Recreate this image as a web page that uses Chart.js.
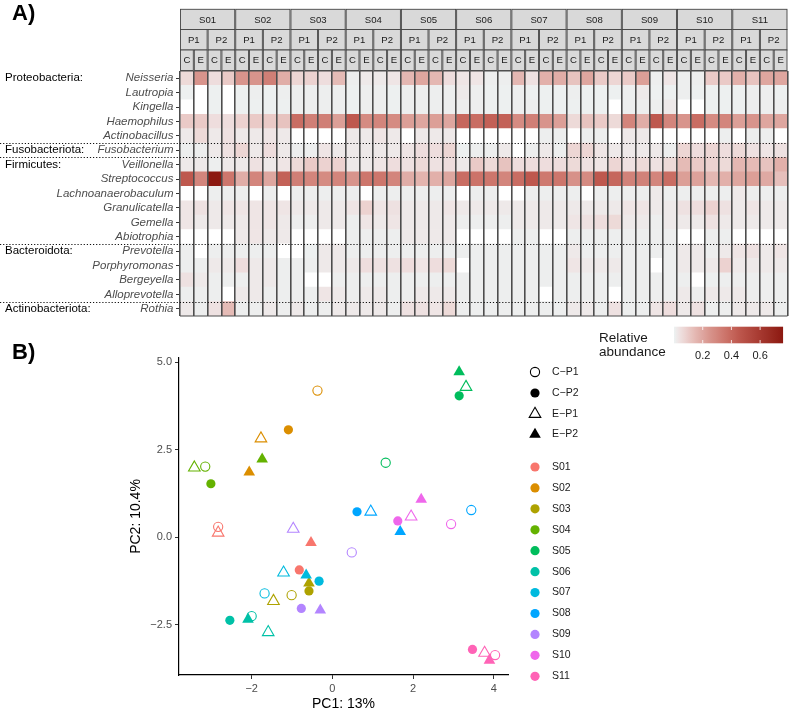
<!DOCTYPE html>
<html>
<head>
<meta charset="utf-8">
<script src="https://cdn.jsdelivr.net/npm/chart.js@4.4.1/dist/chart.umd.min.js"></script>
<style>
  body { margin: 0; background: #fff; width: 789px; height: 713px; position: relative; overflow: hidden; }
  canvas { position: absolute; left: 0; }
  #heat { top: 0; }
  #pca { top: 322px; }
</style>
</head>
<body>
<canvas id="heat" width="789" height="364"></canvas>
<canvas id="pca" width="789" height="391"></canvas>
<script>
// ---- panel A data ----
const subjects = ['S01', 'S02', 'S03', 'S04', 'S05', 'S06', 'S07', 'S08', 'S09', 'S10', 'S11'];
const periods = ['P1', 'P2'];
const arms = ['C', 'E'];
const genera = ['Neisseria', 'Lautropia', 'Kingella', 'Haemophilus', 'Actinobacillus', 'Fusobacterium',
  'Veillonella', 'Streptococcus', 'Lachnoanaerobaculum', 'Granulicatella', 'Gemella', 'Abiotrophia',
  'Prevotella', 'Porphyromonas', 'Bergeyella', 'Alloprevotella', 'Rothia'];
const phylumNames = ['Proteobacteria:', 'Fusobacteriota:', 'Firmicutes:', 'Bacteroidota:', 'Actinobacteriota:'];
const phylumFirstRow = [0, 5, 6, 12, 16];
const legendTicks = [0.2, 0.4, 0.6];

// relative abundance, 44 columns: S01 P1 C, S01 P1 E, S01 P2 C, S01 P2 E, S02 P1 C ...
const neisseria = [0.06,0.25,0.05,0.1,0.25,0.25,0.32,0.18,0.07,0.08,0.05,0.14,0.01,0.02,0.02,
  0.03,0.15,0.2,0.15,0.05,0.03,0.03,0.01,0.01,0.15,0.04,0.17,0.18,0.12,
  0.2,0.1,0.07,0.1,0.22,0.01,0.03,0.01,0.01,0.1,0.1,0.17,0.12,0.2,0.2];
const lautropia = [0.005,0,0.005,0,0.005,0.01,0.005,0.01,0.01,0.01,0.01,0.01,0.005,0.01,0.01,
  0.005,0.01,0.01,0.01,0.01,0.02,0.01,0.005,0.005,0.01,0.005,0.005,0.005,0.01,
  0.005,0.005,0.005,0.01,0.02,0.005,0.005,0.01,0.005,0.005,0.005,0.005,0.01,0.01,0.005];
const kingella = [0,0,0.005,0,0.005,0.005,0.005,0.005,0.01,0.01,0.01,0.01,0.005,0.01,0.01,
  0.005,0.01,0.01,0.01,0.01,0.01,0.01,0.005,0.005,0.01,0.01,0.005,0.005,0.005,
  0.005,0.005,0,0.01,0.01,0.01,0.02,0,0,0.005,0.005,0.005,0.01,0.01,0.01];
const haemophilus = [0.1,0.1,0.05,0.05,0.08,0.1,0.1,0.12,0.38,0.32,0.32,0.22,0.45,0.28,0.3,
  0.28,0.22,0.2,0.22,0.2,0.4,0.38,0.42,0.42,0.28,0.32,0.25,0.22,0.06,
  0.12,0.1,0.06,0.3,0.18,0.45,0.3,0.25,0.38,0.28,0.3,0.22,0.25,0.2,0.2];
const actinobacillus = [0.02,0.06,0.02,0.04,0.02,0.02,0.03,0.02,0,0,0,0,0.02,0.02,0.03,
  0.02,0,0.02,0.02,0.02,0,0,0,0,0,0,0.01,0.01,0,
  0.01,0.01,0,0.02,0.02,0,0,0,0,0,0.01,0,0.01,0.01,0];
const fusobacterium = [0.01,0.01,0.02,0.04,0.07,0.02,0.05,0.02,0.01,0.01,0.03,0.02,0.02,0.02,0.02,
  0.02,0.03,0.05,0.05,0.07,0.005,0.01,0.01,0.02,0,0.01,0.02,0.01,0.07,
  0.07,0.03,0.02,0.02,0.02,0.02,0.01,0.07,0.05,0.07,0.05,0.06,0.04,0.03,0.04];
const veillonella = [0.02,0.02,0.01,0.02,0.02,0.04,0.02,0.03,0.06,0.1,0.08,0.08,0.02,0.02,0.03,
  0.05,0.04,0.06,0.04,0.05,0.02,0.1,0.06,0.12,0.05,0.05,0.05,0.05,0.06,
  0.04,0.03,0.07,0.04,0.06,0.04,0.06,0.14,0.1,0.08,0.06,0.15,0.14,0.12,0.17];
const streptococcus = [0.45,0.3,0.76,0.35,0.18,0.3,0.2,0.42,0.32,0.3,0.28,0.3,0.25,0.35,0.35,
  0.3,0.18,0.16,0.17,0.2,0.38,0.36,0.35,0.3,0.38,0.45,0.34,0.35,0.26,
  0.28,0.45,0.4,0.31,0.31,0.3,0.38,0.22,0.21,0.15,0.17,0.2,0.22,0.19,0.13];
const lachnoanaerobaculum = [0,0,0.01,0.01,0.01,0,0.01,0,0.01,0.01,0.01,0.01,0.01,0,0.01,
  0.01,0.01,0.01,0.01,0.01,0,0.01,0.01,0,0,0.01,0.01,0.01,0.01,
  0,0.01,0.01,0.01,0.01,0.02,0.01,0.01,0.01,0.01,0.01,0.02,0.01,0.01,0.01];
const granulicatella = [0.03,0.04,0.02,0.03,0.03,0.03,0.03,0.03,0.02,0.02,0.02,0.02,0.03,0.08,0.03,
  0.04,0.02,0.02,0.02,0.03,0.02,0.02,0.02,0.02,0.02,0.02,0.02,0.02,0.02,
  0.02,0.02,0.02,0.03,0.03,0.02,0.02,0.04,0.05,0.08,0.04,0.02,0.03,0.02,0.02];
const gemella = [0.03,0.02,0.02,0.02,0.02,0.03,0.03,0.02,0.01,0.01,0.02,0.02,0.01,0.03,0.02,
  0.03,0.02,0.02,0.02,0.02,0.01,0.01,0.01,0.01,0.02,0.02,0.02,0.02,0.03,
  0.04,0.05,0.06,0.02,0.02,0.01,0.02,0.02,0.02,0.04,0.02,0.02,0.02,0.02,0.02];
const abiotrophia = [0,0,0,0,0.02,0.03,0.02,0.02,0,0,0,0,0.01,0.01,0.01,
  0.01,0.02,0.02,0.02,0.02,0,0,0,0,0.01,0.01,0,0,0.01,
  0.01,0.01,0.01,0.01,0.01,0.01,0.01,0,0,0.01,0.01,0,0,0,0];
const prevotella = [0.01,0,0.01,0.01,0.01,0.01,0.01,0,0,0.005,0.02,0.02,0.01,0.01,0.01,
  0.01,0.01,0.01,0.01,0.01,0.01,0.01,0.01,0.01,0.01,0.01,0.01,0.01,0.02,
  0.01,0.01,0.01,0.01,0.01,0.01,0.01,0.02,0.02,0.01,0.02,0.03,0.04,0.02,0.03];
const porphyromonas = [0.01,0.01,0.02,0.02,0.05,0.02,0.02,0.01,0.01,0.01,0.02,0.02,0.02,0.05,0.04,
  0.04,0.05,0.03,0.05,0.06,0,0.01,0.01,0.01,0.01,0.01,0.01,0.01,0.03,
  0.02,0.02,0.02,0.01,0.01,0,0.01,0.02,0.02,0.02,0.08,0.02,0.02,0.02,0.02];
const bergeyella = [0.04,0.02,0.01,0.01,0.01,0.02,0.02,0.01,0.01,0,0,0.01,0.01,0.01,0.01,
  0.01,0.01,0.01,0.01,0.01,0.01,0.01,0.01,0.01,0.01,0.01,0.01,0.01,0.01,
  0.01,0.01,0.01,0.01,0.01,0.01,0.01,0.01,0,0.005,0.01,0.01,0.01,0.01,0.01];
const alloprevotella = [0.01,0.01,0.01,0,0.02,0.02,0.01,0.01,0.01,0.01,0.03,0.02,0.01,0.02,0.02,
  0.01,0.01,0.02,0.02,0.02,0.01,0.01,0.01,0.01,0.01,0.01,0,0.01,0.01,
  0.01,0.01,0,0.01,0.01,0.01,0.01,0.02,0.01,0.02,0.02,0.02,0.01,0.01,0.01];
const rothia = [0.02,0.01,0.04,0.14,0.01,0.01,0.02,0.01,0.02,0.01,0.01,0.02,0.02,0.02,0.02,
  0.01,0.04,0.04,0.03,0.06,0.01,0.01,0.01,0.01,0.01,0.01,0.01,0.01,0.02,
  0.02,0.01,0.04,0.01,0.01,0.03,0.05,0.02,0.04,0.01,0.01,0.02,0.02,0.02,0.01];
const abundance = [neisseria, lautropia, kingella, haemophilus, actinobacillus, fusobacterium,
  veillonella, streptococcus, lachnoanaerobaculum, granulicatella, gemella, abiotrophia,
  prevotella, porphyromonas, bergeyella, alloprevotella, rothia];

// ---- panel B data (one value per subject, S01..S11) ----
const pc1CP1 = [-2.83, -0.37, -1.01, -3.15, 1.32, -2.00, -1.68, 3.44, 0.48, 2.94, 4.03];
const pc2CP1 = [0.30, 4.19, -1.65, 2.02, 2.13, -2.25, -1.60, 0.78, -0.43, 0.38, -3.36];
const pc1CP2 = [-0.82, -1.09, -0.58, -3.01, 3.14, -2.54, -0.33, 0.61, -0.77, 1.62, 3.47];
const pc2CP2 = [-0.93, 3.07, -1.53, 1.53, 4.04, -2.37, -1.25, 0.73, -2.03, 0.47, -3.20];
const pc1EP1 = [-2.83, -1.77, -1.46, -3.42, 3.31, -1.59, -1.21, 0.95, -0.97, 1.95, 3.77];
const pc2EP1 = [0.13, 2.82, -1.82, 1.99, 4.29, -2.71, -1.01, 0.73, 0.24, 0.59, -3.30];
const pc1EP2 = [-0.53, -2.06, -0.58, -1.74, 3.14, -2.09, -0.65, 1.68, -0.30, 2.20, 3.89];
const pc2EP2 = [-0.15, 1.86, -1.31, 2.23, 4.72, -2.34, -1.08, 0.16, -2.08, 1.08, -3.51];
const groupNames = ['C\u2212P1', 'C\u2212P2', 'E\u2212P1', 'E\u2212P2'];
const pc1Ticks = [-2, 0, 2, 4];
const pc2Ticks = [-2.5, 0, 2.5, 5];

const FONT = '"Liberation Sans", Arial, Helvetica, sans-serif';
Chart.defaults.font.family = FONT;
const hue = ['#F8766D', '#DB8E00', '#AEA200', '#64B200', '#00BD5C', '#00C1A7',
  '#00BADE', '#00A6FF', '#B385FF', '#EF67EB', '#FF63B6'];

// colour ramp for abundance (0 = absent, white)
const ramp = [[0, [236, 242, 242]], [0.03, [239, 229, 229]], [0.08, [236, 210, 208]],
  [0.15, [228, 183, 178]], [0.25, [216, 148, 140]], [0.35, [205, 118, 108]],
  [0.45, [190, 88, 78]], [0.76, [140, 24, 16]]];
function fillFor(v) {
  if (!v) return '#ffffff';
  for (let i = 1; i < ramp.length; i++) {
    if (v <= ramp[i][0] || i === ramp.length - 1) {
      const [a, ca] = ramp[i - 1], [b, cb] = ramp[i];
      const t = Math.min(1, (v - a) / (b - a));
      const c = ca.map((k, n) => Math.round(k + (cb[n] - k) * t));
      return 'rgb(' + c.join(',') + ')';
    }
  }
}
const maxAbund = Math.max(...abundance.flat());

const columns = [];
subjects.forEach(s => periods.forEach(p => arms.forEach(a => columns.push({ s, p, a }))));

const heatSets = columns.map((c, j) => ({
  label: c.s + ' ' + c.p + ' ' + c.a,
  data: genera.map(() => 1),
  backgroundColor: abundance.map(row => fillFor(row[j])),
  borderWidth: 0,
  barPercentage: 1,
  categoryPercentage: 1
}));

const heatDecor = {
  id: 'heatDecor',
  afterDraw(chart) {
    const ctx = chart.ctx, xs = chart.scales.x, ys = chart.scales.y, ca = chart.chartArea;
    ctx.save();
    // top / bottom panel borders
    ctx.strokeStyle = '#4d4d4d'; ctx.lineWidth = 1.2;
    ctx.beginPath();
    ctx.moveTo(ca.left, ca.top); ctx.lineTo(ca.right, ca.top);
    ctx.moveTo(ca.left, ca.bottom); ctx.lineTo(ca.right, ca.bottom);
    ctx.stroke();
    // phylum separators
    ctx.strokeStyle = '#111'; ctx.lineWidth = 1; ctx.setLineDash([1.2, 1.9]);
    phylumFirstRow.slice(1).forEach(r => {
      const y = Math.round((ys.getPixelForValue(r - 1) + ys.getPixelForValue(r)) / 2) + 0.5;
      ctx.beginPath(); ctx.moveTo(0, y); ctx.lineTo(ca.right, y); ctx.stroke();
    });
    ctx.setLineDash([]);
    // phylum labels
    ctx.fillStyle = '#000'; ctx.font = '11.5px ' + FONT;
    ctx.textAlign = 'left'; ctx.textBaseline = 'middle';
    phylumNames.forEach((n, i) => ctx.fillText(n, 5, ys.getPixelForValue(phylumFirstRow[i])));
    // facet strips
    const rowsY = [[9.3, 29.5], [29.5, 50], [50, 70.5]];
    function strip(c0, c1, band, txt) {
      const x0 = xs.getPixelForValue(c0), x1 = xs.getPixelForValue(c1);
      const [y0, y1] = rowsY[band];
      ctx.fillStyle = '#d9d9d9';
      ctx.fillRect(x0 + 0.5, y0, x1 - x0 - 1, y1 - y0);
      ctx.strokeStyle = '#444'; ctx.lineWidth = 0.9;
      ctx.strokeRect(x0 + 0.5, y0, x1 - x0 - 1, y1 - y0);
      ctx.fillStyle = '#1a1a1a'; ctx.font = '9.6px ' + FONT;
      ctx.textAlign = 'center'; ctx.textBaseline = 'middle';
      ctx.fillText(txt, (x0 + x1) / 2, (y0 + y1) / 2 + 0.5);
    }
    subjects.forEach((s, i) => strip(i * 4, i * 4 + 4, 0, s));
    subjects.forEach((s, i) => periods.forEach((p, k) => strip(i * 4 + k * 2, i * 4 + k * 2 + 2, 1, p)));
    columns.forEach((c, j) => strip(j, j + 1, 2, c.a));
    // panel tag
    ctx.fillStyle = '#000'; ctx.font = 'bold 22px ' + FONT;
    ctx.textAlign = 'left'; ctx.textBaseline = 'alphabetic';
    ctx.fillText('A)', 12, 20);
    // colour bar legend
    const bx0 = 674, bx1 = 674 + (782.5 - 674) * maxAbund / 0.756, by0 = 326.7, by1 = 343.3;
    const grad = ctx.createLinearGradient(bx0, 0, bx1, 0);
    for (let k = 0; k <= 40; k++) grad.addColorStop(k / 40, fillFor(Math.max(0.0005, maxAbund * k / 40)));
    ctx.fillStyle = grad; ctx.fillRect(bx0, by0, bx1 - bx0, by1 - by0);
    ctx.strokeStyle = '#fff'; ctx.lineWidth = 0.8;
    ctx.fillStyle = '#1a1a1a'; ctx.font = '11px ' + FONT; ctx.textAlign = 'center'; ctx.textBaseline = 'middle';
    legendTicks.forEach(t => {
      const x = bx0 + (bx1 - bx0) * t / maxAbund;
      ctx.beginPath(); ctx.moveTo(x, by1); ctx.lineTo(x, by1 - 3.3);
      ctx.moveTo(x, by0); ctx.lineTo(x, by0 + 3.3); ctx.stroke();
      ctx.fillText(t.toFixed(1), x, 355.5);
    });
    ctx.font = '13.5px ' + FONT; ctx.textAlign = 'left'; ctx.textBaseline = 'alphabetic';
    ctx.fillText('Relative', 599, 342);
    ctx.fillText('abundance', 599, 355.5);
    ctx.restore();
  }
};

new Chart(document.getElementById('heat'), {
  type: 'bar',
  data: { labels: genera, datasets: heatSets },
  options: {
    indexAxis: 'y',
    responsive: false,
    animation: false,
    layout: { padding: { top: 71, right: 1.5, bottom: 48, left: 0 } },
    plugins: { legend: { display: false }, tooltip: { enabled: false } },
    scales: {
      x: {
        type: 'linear', stacked: true, min: 0, max: 44,
        ticks: { display: false, stepSize: 1, maxTicksLimit: 100 },
        grid: { color: '#4d4d4d', lineWidth: 1.6, z: 1, drawTicks: false },
        border: { display: false },
        afterFit: s => { s.height = 0; }
      },
      y: {
        stacked: true,
        ticks: { autoSkip: false, color: '#4d4d4d', padding: 2.5, font: { size: 11.5, style: 'italic' } },
        grid: { offset: false, drawOnChartArea: false, tickLength: 4, color: '#333' },
        border: { display: false },
        afterFit: s => { s.width = 180; }
      }
    }
  },
  plugins: [heatDecor]
});

// ---- panel B ----
const minus = s => String(s).replace('-', '\u2212');
function pts(xs, ys) { return xs.map((x, i) => ({ x, y: ys[i] })); }
const shapeKeys = [
  { style: 'circle', filled: false }, { style: 'circle', filled: true },
  { style: 'triangle', filled: false }, { style: 'triangle', filled: true }
];
const groupData = [[pc1CP1, pc2CP1], [pc1CP2, pc2CP2], [pc1EP1, pc2EP1], [pc1EP2, pc2EP2]];
const pcaSets = groupData.map((g, i) => {
  const k = shapeKeys[i];
  return {
    label: groupNames[i],
    data: pts(g[0], g[1]),
    pointStyle: k.style,
    pointRadius: k.style === 'circle' ? 4.6 : 6.7,
    pointBackgroundColor: k.filled ? hue : 'rgba(0,0,0,0)',
    pointBorderColor: hue,
    pointBorderWidth: k.filled ? 0 : 1.1
  };
});

function mark(ctx, style, filled, color, x, y) {
  ctx.beginPath();
  if (style === 'circle') {
    ctx.arc(x, y, 4.6, 0, Math.PI * 2);
  } else {
    const r = 6.7;
    for (let i = 0; i < 3; i++) {
      const a = i * 2 * Math.PI / 3;
      const px = x + Math.sin(a) * r, py = y - Math.cos(a) * r;
      if (i === 0) ctx.moveTo(px, py); else ctx.lineTo(px, py);
    }
  }
  ctx.closePath();
  if (filled) { ctx.fillStyle = color; ctx.fill(); }
  else { ctx.strokeStyle = color; ctx.lineWidth = 1.1; ctx.stroke(); }
}

const pcaDecor = {
  id: 'pcaDecor',
  afterDraw(chart) {
    const ctx = chart.ctx, top = 322;
    ctx.save();
    ctx.fillStyle = '#000'; ctx.font = 'bold 22px ' + FONT;
    ctx.textAlign = 'left'; ctx.textBaseline = 'alphabetic';
    ctx.fillText('B)', 12, 359 - top);
    ctx.font = '10.5px ' + FONT; ctx.textBaseline = 'middle';
    const shapeY = [372, 393, 414, 434.5];
    shapeKeys.forEach((k, i) => {
      mark(ctx, k.style, k.filled, '#000', 535, shapeY[i] - top);
      ctx.fillStyle = '#1a1a1a';
      ctx.fillText(groupNames[i], 552, shapeY[i] - top);
    });
    subjects.forEach((s, i) => {
      const y = 467 + i * 20.93 - top;
      mark(ctx, 'circle', true, hue[i], 535, y);
      ctx.fillStyle = '#1a1a1a';
      ctx.fillText(s, 552, y);
    });
    ctx.restore();
  }
};

new Chart(document.getElementById('pca'), {
  type: 'scatter',
  data: { datasets: pcaSets },
  options: {
    responsive: false,
    animation: false,
    layout: { padding: { top: 36, right: 281, bottom: 0, left: 128 } },
    plugins: { legend: { display: false }, tooltip: { enabled: false } },
    scales: {
      x: {
        type: 'linear', min: -3.80, max: 4.35,
        afterBuildTicks: s => { s.ticks = pc1Ticks.map(v => ({ value: v })); },
        ticks: { color: '#4d4d4d', padding: 3, font: { size: 11 }, callback: v => minus(v) },
        grid: { drawOnChartArea: false, tickLength: 4, color: '#333' },
        border: { color: '#000', width: 1.2 },
        title: { display: true, text: 'PC1: 13%', color: '#000', font: { size: 14 }, padding: 0 },
        afterFit: s => { s.height = 38; }
      },
      y: {
        type: 'linear', min: -3.93, max: 5.12,
        afterBuildTicks: s => { s.ticks = pc2Ticks.map(v => ({ value: v })); },
        ticks: { color: '#4d4d4d', padding: 3, font: { size: 11 }, callback: v => minus(v.toFixed(1)) },
        grid: { drawOnChartArea: false, tickLength: 4, color: '#333' },
        border: { color: '#000', width: 1.2 },
        title: { display: true, text: 'PC2: 10.4%', color: '#000', font: { size: 14 }, padding: 0 },
        afterFit: s => { s.width = 51; }
      }
    }
  },
  plugins: [pcaDecor]
});
</script>
</body>
</html>
